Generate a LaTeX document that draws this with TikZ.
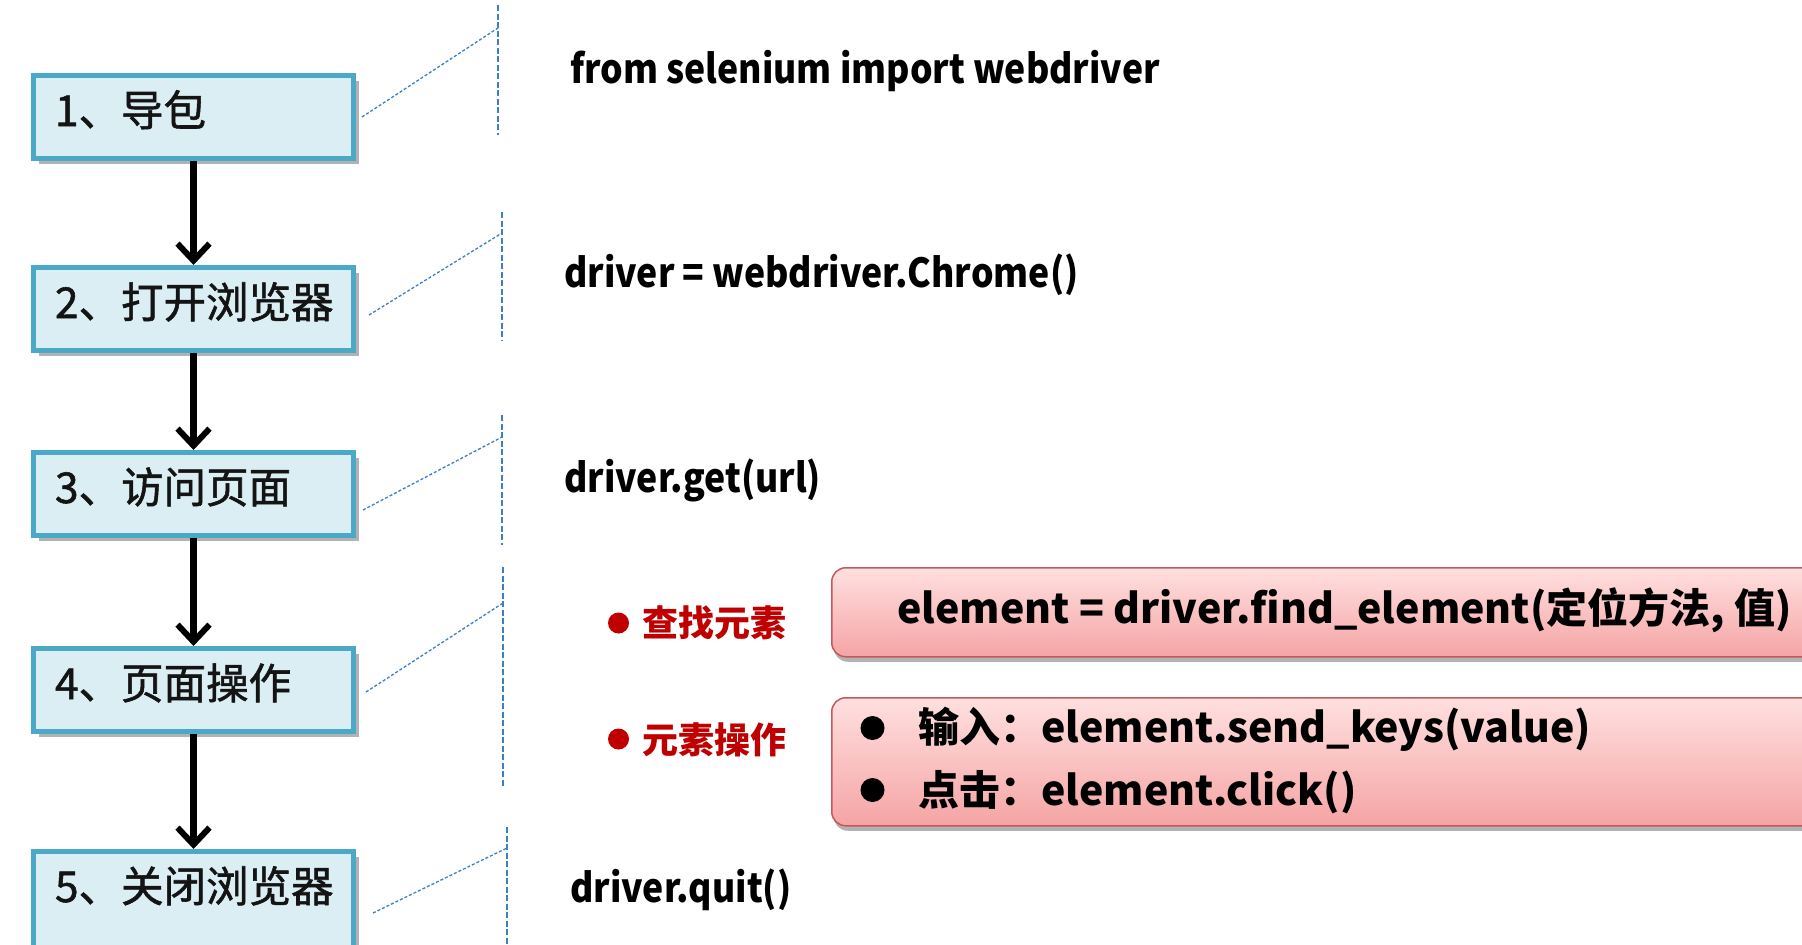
\documentclass[tikz,border=0pt]{standalone}
\usepackage{fontspec}
\usetikzlibrary{arrows.meta,shadows,calc}
\setmainfont{Noto Sans CJK SC}
\newfontfamily\codecond{Noto Sans CJK SC}[FakeStretch=0.89]
\newfontfamily\stepfont{Noto Sans CJK SC}[FakeBold=1.3]
\definecolor{boxedge}{HTML}{4BA9C8}
\definecolor{boxfill}{HTML}{DBEEF4}
\definecolor{dashblue}{HTML}{3C7FC8}
\definecolor{labelred}{HTML}{C00000}
\definecolor{pinkedge}{HTML}{C4585A}
\definecolor{pinktop}{HTML}{FFE0E0}
\definecolor{pinkbot}{HTML}{F5A4A4}
\begin{document}
\begin{tikzpicture}[x=1pt, y=-1pt,
  stepbox/.style={draw=boxedge, line width=5pt, fill=boxfill,
    text width=277pt, inner xsep=21.5pt, inner ysep=18.5pt,
    text height=32pt, text depth=14pt, align=left, anchor=north,
    font=\stepfont\fontsize{42.5}{48}\selectfont, text=black!92,
    drop shadow={shadow xshift=5pt, shadow yshift=-5pt, opacity=0.3, fill=black}},
  flow/.style={line width=6.5pt, -{Straight Barb[length=17pt, width=32pt, line width=6pt]}},
  vdash/.style={draw=dashblue, line width=2pt, dash pattern=on 6pt off 2.5pt},
  ddash/.style={draw=dashblue, line width=1.3pt, dash pattern=on 3pt off 2pt},
  code/.style={font=\codecond\bfseries\fontsize{40}{48}\selectfont, inner sep=0pt, anchor=base west},
  pinkcode/.style={font=\bfseries\fontsize{41}{48}\selectfont, inner sep=0pt, anchor=base west},
  redbullet/.style={circle, fill=labelred, minimum size=21pt, inner sep=0pt},
  blackbullet/.style={circle, fill=black, minimum size=24pt, inner sep=0pt},
  redlabel/.style={font=\bfseries\fontsize{36}{40}\selectfont, text=labelred, inner sep=0pt, anchor=base west},
  pinkbox/.style={draw=pinkedge, line width=1.5pt, rounded corners=14pt,
    top color=pinktop, bottom color=pinkbot, anchor=north west, minimum width=1040pt,
    drop shadow={shadow xshift=2pt, shadow yshift=-5pt, opacity=0.3, fill=black}}
]
\useasboundingbox (0,0) rectangle (1802,945);
\clip (0,0) rectangle (1802,945);
\fill[white] (0,0) rectangle (1802,945);

% step boxes
\node[stepbox] (b1) at (193.5,73) {1、导包};
\node[stepbox] (b2) at (193.5,265) {2、打开浏览器};
\node[stepbox] (b3) at (193.5,450) {3、访问页面};
\node[stepbox] (b4) at (193.5,646) {4、页面操作};
\node[stepbox, text depth=80pt] (b5) at (193.5,849) {5、关闭浏览器};

% flow arrows
\draw[flow] (b1.south) -- (b2.north);
\draw[flow] (b2.south) -- (b3.north);
\draw[flow] (b3.south) -- (b4.north);
\draw[flow] (b4.south) -- (b5.north);

% dashed brackets
\coordinate (v1t) at (498,5);   \coordinate (v1b) at (498,135);
\coordinate (d1s) at (362,117); \coordinate (d1e) at (498,28);
\coordinate (v2t) at (502,212); \coordinate (v2b) at (502,340);
\coordinate (d2s) at (369,315); \coordinate (d2e) at (502,233);
\coordinate (v3t) at (502,415); \coordinate (v3b) at (502,545);
\coordinate (d3s) at (363,510); \coordinate (d3e) at (502,437);
\coordinate (v4t) at (503,567); \coordinate (v4b) at (503,787);
\coordinate (d4s) at (366,692); \coordinate (d4e) at (503,603);
\coordinate (v5t) at (507,827); \coordinate (v5b) at (507,950);
\coordinate (d5s) at (373,913); \coordinate (d5e) at (507,848);
\foreach \i in {1,...,5}{
  \draw[vdash] (v\i t) -- (v\i b);
  \draw[ddash] (d\i s) -- (d\i e);
}

% code texts
\node[code] (c1) at (570,83) {from selenium import webdriver};
\node[code] (c2) at (564,287) {driver = webdriver.Chrome()};
\node[code] (c3) at (564,492) {driver.get(url)};
\node[code] (c4) at (570,902) {driver.quit()};

% red labels
\node[redbullet] (rb1) at (618.5,623) {};
\node[redlabel] (l1) at (642,636.5) {查找元素};
\node[redbullet] (rb2) at (618.5,739) {};
\node[redlabel] (l2) at (642,753) {元素操作};

% pink boxes
\node[pinkbox, minimum height=89pt] (pk1) at (831,567) {};
\node[pinkbox, minimum height=128pt] (pk2) at (831,697) {};
\node[pinkcode] (e1) at (897,623) {element = driver.find\_element(定位方法, 值)};
\node[blackbullet] (bb1) at (872.5,728) {};
\node[pinkcode] (s1) at (918,742) {输入：element.send\_keys(value)};
\node[blackbullet] (bb2) at (872.5,790) {};
\node[pinkcode] (s2) at (918,805) {点击：element.click()};
\end{tikzpicture}
\end{document}
